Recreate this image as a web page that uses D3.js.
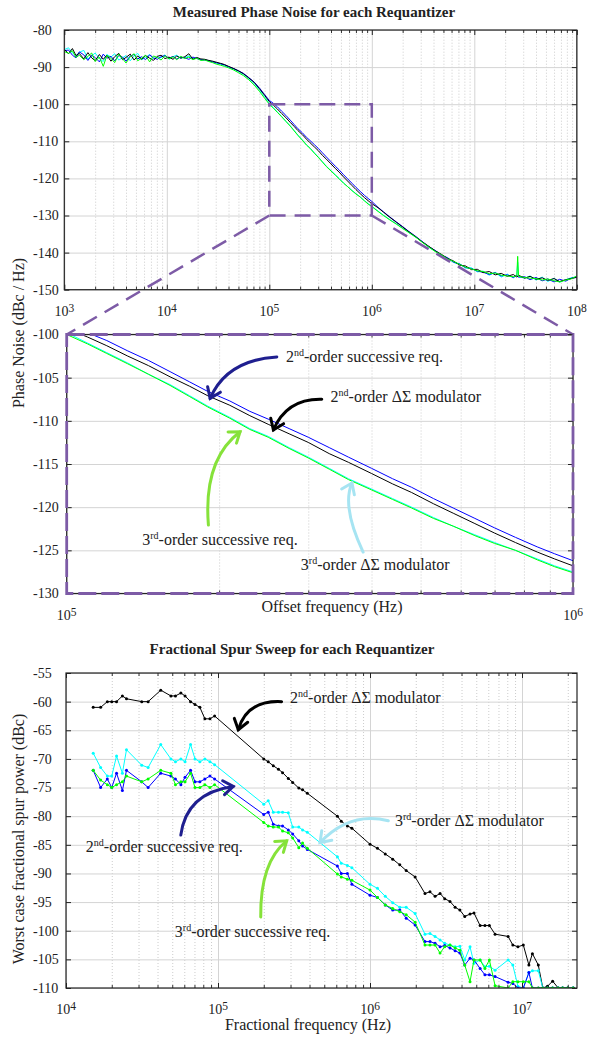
<!DOCTYPE html>
<html>
<head>
<meta charset="utf-8">
<script src="https://cdn.jsdelivr.net/npm/d3@7"></script>
<style>
body { margin: 0; background: #fff; }
</style>
</head>
<body>
<div id="chart"></div>
<script>
// ---- phase noise (top + zoomed panel) ----
var pnFreq = [
	1000, 1100, 1200, 1300, 1400, 1550, 1700, 1850, 2000, 2200, 2400, 2600, 2850, 3100, 3400, 3700, 4000, 4400, 4800, 5200, 5700, 6200, 6800, 7400, 8100, 8800, 9600, 10500, 11500, 12500, 13700, 15000, 16400, 18000, 19600, 21500, 23500, 25700, 28000, 30500, 33500, 36500, 40000,
	45000, 50000, 56000, 63000, 71000, 80000, 90000, 100000,
	110000, 120000, 132000, 145000, 160000, 175000, 190000, 210000, 230000, 250000, 275000, 300000, 330000, 360000, 400000, 440000, 480000, 530000, 580000, 640000, 700000, 770000, 850000, 920000, 1000000,
	1150000, 1300000, 1500000, 1750000, 2000000, 2300000, 2700000, 3100000, 3600000, 4200000, 4800000, 5500000, 6300000, 7200000, 8200000, 9400000, 10700000, 12200000, 14000000, 16000000, 18300000, 21000000, 24000000, 26000000, 26500000, 27000000, 31000000, 35000000, 40000000, 46000000, 52000000, 60000000, 68000000, 78000000, 88000000, 100000000
];
var pnDsm2 = [
	-85.2, -86.4, -85.0, -86.9, -86.3, -87.8, -86.1, -87.5, -88.3, -86.6, -87.9, -86.8, -88.4, -87.2, -86.3, -88.0, -87.4, -86.5, -88.1, -87.0, -87.9, -86.9, -87.6, -88.2, -87.1, -86.8, -87.7, -87.3, -87.9, -87.0, -87.6, -87.2, -86.4, -87.9, -87.4, -87.8, -87.9, -88.2, -88.4, -88.7, -89.0, -89.3, -89.8,
	-90.4, -91.0, -91.8, -92.9, -94.1, -95.8, -97.6, -99.3,
	-100.3, -101.3, -102.5, -103.6, -104.9, -106.0, -107.1, -108.2, -109.4, -110.4, -111.5, -112.5, -113.8, -114.8, -116.1, -117.3, -118.3, -119.6, -120.7, -121.9, -123.0, -124.1, -125.2, -126.0, -126.8,
	-127.9, -129.1, -130.5, -131.9, -133.1, -134.4, -135.8, -137.1, -138.3, -139.6, -140.5, -141.6, -142.3, -143.4, -143.6, -144.6, -144.5, -145.4, -145.1, -146.0, -145.6, -146.4, -145.9, -146.6, -146.3, -146.1, -146.9, -146.4, -147.2, -146.8, -147.5, -147.0, -147.8, -147.3, -147.0, -146.6
];
var pnSucc2 = [
	-85.6, -85.4, -86.8, -87.5, -85.9, -86.7, -88.2, -86.8, -87.4, -88.6, -86.5, -87.6, -87.1, -88.3, -86.9, -87.3, -88.4, -87.0, -86.6, -87.8, -87.2, -88.0, -86.7, -87.5, -87.9, -87.2, -86.9, -87.6, -87.1, -87.8, -87.3, -87.5, -87.9, -87.3, -87.7, -88.0, -88.1, -88.3, -88.6, -88.8, -89.1, -89.4, -89.9,
	-90.4, -91.0, -91.7, -92.8, -94.0, -95.6, -97.4, -99.0,
	-99.8, -100.7, -101.9, -103.0, -104.3, -105.5, -106.6, -107.7, -108.9, -109.8, -110.9, -111.9, -113.1, -114.2, -115.5, -116.7, -117.7, -119.0, -120.1, -121.3, -122.4, -123.5, -124.6, -125.4, -126.2,
	-127.8, -129.0, -130.4, -131.8, -133.0, -134.3, -135.7, -137.0, -138.4, -139.5, -140.7, -141.4, -142.6, -143.1, -144.0, -144.3, -145.0, -145.3, -145.9, -145.4, -146.3, -146.0, -146.7, -146.1, -146.5, -146.6, -146.5, -147.3, -146.7, -147.6, -147.1, -147.9, -147.2, -147.7, -146.9, -146.7
];
var pnDsm3 = [
	-85.3, -84.8, -86.2, -86.9, -86.0, -85.5, -87.8, -87.0, -86.2, -87.7, -88.5, -86.6, -87.3, -86.4, -88.1, -87.5, -86.9, -88.3, -87.0, -86.3, -88.0, -87.4, -86.6, -87.8, -87.3, -87.5, -86.7, -87.9, -87.2, -86.8, -87.6, -87.4, -87.0, -87.8, -87.5, -88.1, -88.0, -88.3, -88.6, -89.0, -89.2, -89.6, -90.0,
	-90.6, -91.2, -92.0, -93.1, -94.4, -96.1, -98.0, -99.8,
	-101.0, -102.1, -103.3, -104.6, -105.8, -107.1, -108.3, -109.6, -110.9, -111.8, -113.1, -114.2, -115.5, -116.7, -117.9, -119.0, -120.0, -121.2, -122.2, -123.2, -124.1, -125.0, -126.0, -126.8, -127.5,
	-128.8, -129.9, -131.1, -132.3, -133.4, -134.6, -135.9, -137.1, -138.6, -139.7, -140.8, -141.5, -142.7, -143.0, -144.2, -144.1, -145.2, -145.0, -146.1, -145.3, -146.6, -145.8, -146.8, -146.2, -142.6, -146.5, -146.9, -146.3, -147.4, -146.6, -147.8, -146.9, -148.0, -147.3, -146.8, -146.5
];
var pnSucc3 = [
	-85.8, -86.3, -85.6, -87.4, -86.8, -88.0, -87.1, -86.2, -88.5, -87.3, -89.8, -86.9, -87.6, -88.8, -86.5, -87.7, -88.9, -87.2, -86.4, -88.3, -87.6, -86.8, -88.6, -87.0, -87.4, -88.1, -86.9, -87.8, -87.2, -88.0, -87.1, -87.7, -87.3, -88.0, -87.6, -88.2, -88.1, -88.5, -88.8, -89.2, -89.5, -89.8, -90.2,
	-90.8, -91.5, -92.3, -93.4, -94.8, -96.5, -98.4, -100.0,
	-101.1, -102.2, -103.4, -104.6, -105.9, -107.2, -108.4, -109.7, -111.0, -111.9, -113.2, -114.3, -115.6, -116.8, -118.0, -119.1, -120.1, -121.3, -122.2, -123.3, -124.2, -125.0, -126.1, -126.9, -127.6,
	-128.9, -130.0, -131.2, -132.4, -133.5, -134.6, -135.9, -137.2, -138.5, -139.8, -140.6, -141.7, -142.4, -143.2, -143.9, -144.4, -144.9, -145.1, -145.7, -145.5, -146.1, -146.3, -146.5, -146.2, -141.0, -146.4, -146.7, -146.9, -147.0, -147.4, -147.1, -147.6, -147.9, -147.4, -147.1, -146.3
];

// ---- fractional spur sweep ----
var spFreq = [
	15100, 16900, 18700, 20000, 21500, 23500, 25000, 31500, 34700, 42000, 49000, 52500, 57000, 60700, 66000, 70600, 76000, 82000, 88500, 95000,
	200000, 214000, 231000, 250000, 266000, 290000, 310000, 340000, 360000, 387000,
	610000, 647000, 710000, 760000,
	1000000, 1120000, 1260000, 1410000, 1570000, 1730000, 1980000, 2300000, 2480000, 2680000, 2890000, 3100000, 3360000, 3630000, 3900000, 4200000, 4550000, 4830000, 5300000, 5700000, 6100000, 6650000, 8100000, 8700000, 9400000, 10200000, 11100000, 11700000, 12800000, 13700000, 14700000, 15900000, 17300000, 18500000, 20000000, 21700000
];
var spDsm2 = [
	-61.0, -61.0, -60.0, -60.0, -60.0, -59.0, -59.5, -60.0, -60.0, -58.0, -59.0, -59.0, -58.5, -59.0, -60.0, -60.5, -61.0, -63.0, -63.0, -62.5,
	-70.0, -70.5, -71.2, -71.8, -72.4, -73.4, -74.1, -75.1, -75.4, -76.0,
	-80.0, -80.9, -81.7, -82.1,
	-84.9, -85.6, -86.6, -87.5, -88.5, -89.5, -90.6, -93.5, -93.2, -94.0, -93.5, -94.4, -94.9, -95.9, -96.4, -97.5, -97.1, -96.9, -99.1, -99.1, -99.1, -100.6, -101.0, -102.5, -102.8, -102.5, -106.0, -104.0, -106.0, -110.0, -109.7, -108.8, -110.0, -110.0, -110.0, -110.0
];
var spDsm3 = [
	-69.0, -71.5, -73.0, -73.0, -69.5, -72.5, -68.4, -71.1, -71.5, -67.5, -70.0, -70.5, -70.0, -70.5, -67.5, -70.0, -70.5, -70.0, -70.5, -71.0,
	-77.9, -77.3, -79.3, -79.3, -79.3, -79.4, -81.9, -81.9, -82.4, -82.8,
	-87.1, -88.2, -88.6, -89.0,
	-91.9, -92.6, -94.0, -95.1, -95.9, -95.9, -97.0, -100.6, -100.5, -101.0, -101.6, -102.2, -102.5, -102.8, -102.7, -105.1, -102.8, -105.7, -105.1, -106.3, -106.2, -106.9, -105.1, -106.0, -109.7, -110.0, -107.3, -107.0, -107.0, -110.0, -110.0, -110.0, -110.0, -110.0, -110.0, -110.0
];
var spSucc2 = [
	-72.0, -75.0, -73.5, -75.0, -72.5, -75.5, -72.0, -74.0, -75.0, -72.5, -73.0, -73.5, -74.5, -73.2, -72.0, -74.0, -74.0, -73.5, -73.0, -73.5,
	-79.7, -79.3, -81.4, -81.7, -81.7, -82.4, -83.1, -84.3, -85.2, -85.8,
	-88.7, -90.0, -90.0, -91.9,
	-93.8, -94.2, -95.5, -96.4, -96.4, -97.8, -99.0, -101.9, -101.9, -102.2, -102.8, -102.6, -103.0, -103.5, -103.9, -106.0, -104.8, -105.1, -106.6, -107.7, -107.7, -108.0, -109.0, -109.2, -110.0, -110.0, -107.3, -110.0, -110.0, -110.0, -110.0, -110.0, -110.0, -110.0, -110.0, -110.0
];
var spSucc3 = [
	-72.0, -73.7, -74.5, -75.0, -74.5, -74.0, -73.0, -74.0, -73.5, -72.0, -72.5, -74.5, -74.0, -74.0, -72.5, -75.0, -75.0, -74.5, -75.0, -74.5,
	-81.1, -81.7, -81.9, -81.9, -82.6, -82.9, -83.8, -85.5, -84.7, -85.6,
	-90.1, -90.6, -91.0, -91.2,
	-92.9, -94.2, -95.5, -96.1, -96.7, -97.2, -98.5, -102.5, -102.5, -102.5, -103.9, -102.8, -102.5, -103.0, -103.4, -106.0, -108.9, -105.1, -105.1, -106.6, -105.1, -109.6, -110.0, -108.9, -108.9, -108.9, -108.9, -110.0, -110.0, -110.0, -110.0, -110.0, -110.0, -110.0, -110.0, -110.0
];

// ---- ticks ----
var pnDecades = [1e3, 1e4, 1e5, 1e6, 1e7, 1e8];
var pnYTicks = [-80, -90, -100, -110, -120, -130, -140, -150];
var zDecades = [1e5, 1e6];
var zYTicks = [-100, -105, -110, -115, -120, -125, -130];
var spDecades = [1e4, 1e5, 1e6, 1e7];
var spYTicks = [-55, -60, -65, -70, -75, -80, -85, -90, -95, -100, -105, -110];

var serif = "'Liberation Serif', 'Times New Roman', Tinos, 'DejaVu Serif', serif";
var purple = '#7d5ba6';
var navy = '#1f1f8f', lime = '#86e23a', pale = '#a6e4f2';

var svg = d3.select('#chart').append('svg')
	.attr('width', 589)
	.attr('height', 1037)
	.attr('font-family', serif);

var pnX = d3.scaleLog().domain([1e3, 1e8]).range([64.3, 576.8]);
var pnY = d3.scaleLinear().domain([-150, -80]).range([289.7, 30]);
var zX = d3.scaleLog().domain([1e5, 1e6]).range([66.7, 573]);
var zY = d3.scaleLinear().domain([-130, -100]).range([593.5, 334.5]);
var spX = d3.scaleLog().domain([1e4, 2.3e7]).range([66, 577]);
var spY = d3.scaleLinear().domain([-110, -55]).range([988, 673]);

function txt(sel) {
	return sel.append('text').attr('font-family', serif).attr('fill', '#222');
}

function minorsOf(x, decades) {
	var out = [];
	decades.forEach(function (d) {
		d3.range(2, 10).forEach(function (k) {
			if (d * k > x.domain()[0] && d * k < x.domain()[1]) out.push(d * k);
		});
	});
	return out;
}

function styleAxis(s, color, dash) {
	s.select('.domain').remove();
	s.selectAll('line').attr('stroke', color).attr('stroke-dasharray', dash || null);
}

function grid(x, y, decades, yTicks) {
	var l = x.range()[0], r = x.range()[1], b = y.range()[0], t = y.range()[1];
	var g = svg.append('g');
	g.append('g').attr('transform', 'translate(0,' + b + ')')
		.call(d3.axisBottom(x).tickValues(minorsOf(x, decades)).tickSize(-(b - t)).tickFormat(''))
		.call(s => styleAxis(s, '#cccccc', '1,2'));
	g.append('g').attr('transform', 'translate(0,' + b + ')')
		.call(d3.axisBottom(x).tickValues(decades).tickSize(-(b - t)).tickFormat(''))
		.call(s => styleAxis(s, '#d4d4d4'));
	g.append('g').attr('transform', 'translate(' + l + ',0)')
		.call(d3.axisLeft(y).tickValues(yTicks).tickSize(-(r - l)).tickFormat(''))
		.call(s => styleAxis(s, '#d4d4d4'));
}

function box(x, y, decades, yTicks, xLabelY) {
	var l = x.range()[0], r = x.range()[1], b = y.range()[0], t = y.range()[1];
	var g = svg.append('g');
	var minors = minorsOf(x, decades);
	g.append('g').attr('transform', 'translate(0,' + b + ')')
		.call(d3.axisBottom(x).tickValues(minors).tickSize(-3).tickFormat(''))
		.call(s => styleAxis(s, '#333'));
	g.append('g').attr('transform', 'translate(0,' + t + ')')
		.call(d3.axisTop(x).tickValues(minors).tickSize(-3).tickFormat(''))
		.call(s => styleAxis(s, '#333'));
	g.append('g').attr('transform', 'translate(0,' + b + ')')
		.call(d3.axisBottom(x).tickValues(decades).tickSize(-5).tickFormat(''))
		.call(s => styleAxis(s, '#222'));
	g.append('g').attr('transform', 'translate(0,' + t + ')')
		.call(d3.axisTop(x).tickValues(decades).tickSize(-5).tickFormat(''))
		.call(s => styleAxis(s, '#222'));
	g.append('g').attr('transform', 'translate(' + l + ',0)')
		.call(d3.axisLeft(y).tickValues(yTicks).tickSize(-5).tickFormat(''))
		.call(s => styleAxis(s, '#222'));
	g.append('g').attr('transform', 'translate(' + r + ',0)')
		.call(d3.axisRight(y).tickValues(yTicks).tickSize(-5).tickFormat(''))
		.call(s => styleAxis(s, '#222'));
	g.append('rect')
		.attr('x', l).attr('y', t).attr('width', r - l).attr('height', b - t)
		.attr('fill', 'none').attr('stroke', '#222').attr('stroke-width', 1.2);

	svg.append('g').selectAll('text').data(yTicks).join('text')
		.attr('font-family', serif).attr('fill', '#222')
		.attr('x', 33).attr('y', d => y(d)).attr('dy', '0.35em')
		.attr('font-size', 14)
		.text(d => String(d));

	var xl = svg.append('g').selectAll('text').data(decades).join('text')
		.attr('font-family', serif).attr('fill', '#222')
		.attr('x', d => x(d)).attr('y', xLabelY)
		.attr('text-anchor', 'middle')
		.attr('font-size', 14);
	xl.append('tspan').text('10');
	xl.append('tspan').attr('dy', -4).attr('font-size', 11.5)
		.text(d => String(Math.round(Math.log10(d))));
}

function clipFor(id, x, y) {
	svg.append('clipPath').attr('id', id).append('rect')
		.attr('x', x.range()[0]).attr('y', y.range()[1])
		.attr('width', x.range()[1] - x.range()[0])
		.attr('height', y.range()[0] - y.range()[1]);
}

function curves(x, y, freq, list, clip, markers) {
	var g = svg.append('g').attr('clip-path', 'url(#' + clip + ')');
	list.forEach(function (s) {
		var line = d3.line().x((d, i) => x(freq[i])).y(d => y(d));
		g.append('path').attr('d', line(s.values))
			.attr('fill', 'none').attr('stroke', s.color).attr('stroke-width', 1)
			.attr('stroke-linejoin', 'round');
		if (markers) {
			g.selectAll(null).data(s.values).join('circle')
				.attr('cx', (d, i) => x(freq[i])).attr('cy', d => y(d))
				.attr('r', 1.5).attr('fill', s.color);
		}
	});
}

function notes(x, y, list) {
	var g = svg.append('g');
	list.forEach(function (n) {
		var p0 = [x(n.from[0]), y(n.from[1])];
		var pc = [x(n.via[0]), y(n.via[1])];
		var p1 = [x(n.to[0]), y(n.to[1])];
		g.append('path').attr('d', 'M' + p0 + 'Q' + pc + ' ' + p1)
			.attr('fill', 'none').attr('stroke', n.color).attr('stroke-width', 3)
			.attr('stroke-linecap', 'round');
		var a = Math.atan2(p1[1] - pc[1], p1[0] - pc[0]);
		var L = 12, s = 0.62;
		var pa = [p1[0] - L * Math.cos(a - s), p1[1] - L * Math.sin(a - s)];
		var pb = [p1[0] - L * Math.cos(a + s), p1[1] - L * Math.sin(a + s)];
		g.append('path').attr('d', 'M' + pa + 'L' + p1 + 'L' + pb)
			.attr('fill', 'none').attr('stroke', n.color).attr('stroke-width', 3)
			.attr('stroke-linecap', 'round').attr('stroke-linejoin', 'miter');
		var t = txt(g).attr('x', x(n.at[0])).attr('y', y(n.at[1]))
			.attr('font-size', 16);
		t.append('tspan').text(n.pre);
		t.append('tspan').attr('font-size', 10).attr('dy', -6).text(n.sup);
		t.append('tspan').attr('dy', 6).text(n.post);
	});
}

var pnSeries = [
	{ values: pnDsm3, color: '#00ffff' },
	{ values: pnSucc2, color: '#0000ff' },
	{ values: pnDsm2, color: '#000000' },
	{ values: pnSucc3, color: '#00ff00' }
];
var spSeries = [
	{ values: spDsm2, color: '#000000' },
	{ values: spDsm3, color: '#00ffff' },
	{ values: spSucc2, color: '#0000ff' },
	{ values: spSucc3, color: '#00ff00' }
];

// ---- top panel ----
clipFor('clipTop', pnX, pnY);
grid(pnX, pnY, pnDecades, pnYTicks);
curves(pnX, pnY, pnFreq, pnSeries, 'clipTop', false);
box(pnX, pnY, pnDecades, pnYTicks, 316);

txt(svg).attr('x', 314).attr('y', 16.5).attr('text-anchor', 'middle')
	.attr('font-size', 15).attr('font-weight', 'bold')
	.text('Measured Phase Noise for each Requantizer');

// zoom marker and connectors
svg.append('rect')
	.attr('x', pnX(1e5)).attr('y', pnY(-100))
	.attr('width', pnX(1e6) - pnX(1e5)).attr('height', pnY(-130) - pnY(-100))
	.attr('fill', 'none').attr('stroke', purple).attr('stroke-width', 2.5)
	.attr('stroke-dasharray', '16,9');
[[1e5, 1e5], [1e6, 1e6]].forEach(function (p) {
	svg.append('line')
		.attr('x1', pnX(p[0])).attr('y1', pnY(-130))
		.attr('x2', zX(p[1])).attr('y2', zY(-100))
		.attr('stroke', purple).attr('stroke-width', 2.5)
		.attr('stroke-dasharray', '16,9');
});

// ---- zoomed panel ----
clipFor('clipMid', zX, zY);
grid(zX, zY, zDecades, zYTicks);
curves(zX, zY, pnFreq, pnSeries, 'clipMid', false);
box(zX, zY, zDecades, zYTicks, 620);
svg.append('rect')
	.attr('x', zX(1e5)).attr('y', zY(-100))
	.attr('width', zX(1e6) - zX(1e5)).attr('height', zY(-130) - zY(-100))
	.attr('fill', 'none').attr('stroke', purple).attr('stroke-width', 2.8)
	.attr('stroke-dasharray', '18,5');

notes(zX, zY, [
	{ pre: '2', sup: 'nd', post: '-order successive req.', color: navy, at: [2.71e5, -103.15], from: [2.6e5, -102.6], via: [2.07e5, -102.95], to: [1.92e5, -107.4] },
	{ pre: '2', sup: 'nd', post: '-order \u0394\u03a3 modulator', color: '#000000', at: [3.32e5, -107.8], from: [3.19e5, -107.5], via: [2.72e5, -107.4], to: [2.56e5, -111.06] },
	{ pre: '3', sup: 'rd', post: '-order successive req.', color: lime, at: [1.41e5, -124.4], from: [1.905e5, -122.07], via: [1.86e5, -114.5], to: [2.2e5, -111.26] },
	{ pre: '3', sup: 'rd', post: '-order \u0394\u03a3 modulator', color: pale, at: [2.9e5, -127.3], from: [3.85e5, -125.2], via: [3.49e5, -119.9], to: [3.66e5, -117.2] }
]);

txt(svg).attr('x', 332).attr('y', 612).attr('text-anchor', 'middle')
	.attr('font-size', 16).text('Offset frequency (Hz)');
txt(svg).attr('transform', 'translate(24,333) rotate(-90)')
	.attr('text-anchor', 'middle').attr('font-size', 16)
	.text('Phase Noise (dBc / Hz)');

// ---- spur sweep panel ----
clipFor('clipSp', spX, spY);
grid(spX, spY, spDecades, spYTicks);
curves(spX, spY, spFreq, spSeries, 'clipSp', true);
box(spX, spY, spDecades, spYTicks, 1014);

notes(spX, spY, [
	{ pre: '2', sup: 'nd', post: '-order \u0394\u03a3 modulator', color: '#000000', at: [2.98e5, -60.2], from: [2.62e5, -60.0], via: [1.55e5, -59.7], to: [1.36e5, -64.9] },
	{ pre: '2', sup: 'nd', post: '-order successive req.', color: navy, at: [1.35e4, -86.2], from: [5.69e4, -83.3], via: [6.2e4, -75.9], to: [1.26e5, -74.8] },
	{ pre: '3', sup: 'rd', post: '-order \u0394\u03a3 modulator', color: pale, at: [1.46e6, -81.8], from: [1.32e6, -80.8], via: [7.4e5, -79.1], to: [4.69e5, -84.6] },
	{ pre: '3', sup: 'rd', post: '-order successive req.', color: lime, at: [5.2e4, -101.1], from: [1.91e5, -97.6], via: [1.89e5, -88.0], to: [2.83e5, -84.3] }
]);

txt(svg).attr('x', 292).attr('y', 654).attr('text-anchor', 'middle')
	.attr('font-size', 15).attr('font-weight', 'bold')
	.text('Fractional Spur Sweep for each Requantizer');
txt(svg).attr('x', 308).attr('y', 1030).attr('text-anchor', 'middle')
	.attr('font-size', 16).text('Fractional frequency (Hz)');
txt(svg).attr('transform', 'translate(24,839) rotate(-90)')
	.attr('text-anchor', 'middle').attr('font-size', 16)
	.text('Worst case fractional spur power (dBc)');
</script>
</body>
</html>
